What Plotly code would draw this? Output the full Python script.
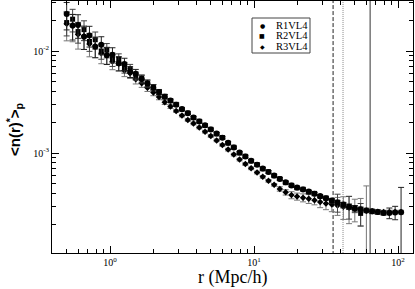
import plotly.graph_objects as go

# ---- data ----
r = [0.50, 0.55, 0.60, 0.66, 0.72, 0.79, 0.87, 0.95, 1.04, 1.15, 1.26, 1.38, 1.51, 1.66,
     1.82, 2.00, 2.19, 2.40, 2.63, 2.88, 3.16, 3.47, 3.80, 4.17, 4.57, 5.01, 5.50, 6.03,
     6.61, 7.24, 7.94, 8.71, 9.55, 10.5, 11.5, 12.6, 13.8, 15.1, 16.6, 18.2, 19.9, 21.9,
     24.0, 26.3, 28.8, 31.6, 34.7, 38.0, 41.7, 45.7, 50.1, 55.0, 60.3, 66.1, 72.4, 79.4,
     87.1, 95.5, 105.0]

r1_n = [0.0230, 0.0178, 0.0180, 0.0138, 0.0142, 0.0110, 0.0115, 0.00910, 0.00920, 0.00760,
        0.00745, 0.00625, 0.00600, 0.00531, 0.00482, 0.00437, 0.00396, 0.00357, 0.00327,
        0.00298, 0.00270, 0.00246, 0.00223, 0.00204, 0.00187, 0.00170, 0.00155, 0.00141,
        0.00126, 0.00113, 0.00101, 0.000922, 0.000840, 0.000768, 0.000705, 0.000651,
        0.000603, 0.000557, 0.000516, 0.000480, 0.000459, 0.000439, 0.000419, 0.000399,
        0.000379, 0.000360, 0.000342, 0.000327, 0.000313, 0.000298, 0.000288, 0.000281,
        0.000274, 0.000268, 0.000264, 0.000259, 0.000258, 0.000261, 0.000263]
r1_err = [0.30, 0.28, 0.26, 0.25, 0.23, 0.22, 0.20, 0.19, 0.17, 0.16, 0.14, 0.12, 0.10, 0.09,
          0.08, 0.07, 0.06, 0.05, 0.04, 0.04, 0.03, 0.03, 0.03, 0.03, 0.03, 0.03, 0.03, 0.03,
          0.03, 0.03, 0.03, 0.03, 0.03, 0.03, 0.03, 0.03, 0.03, 0.03, 0.03, 0.03, 0.03, 0.03,
          0.03, 0.03, 0.03, 0.03, 0.04, 0.05, 0.05, 0.06, 0.06, 0.05, 0.05, 0.05, 0.05, 0.05,
          0.12, 0.15, 0.75]

r2_n = [0.0190, 0.0205, 0.0155, 0.0162, 0.0124, 0.0129, 0.0100, 0.0102, 0.00830, 0.00830,
        0.00690, 0.00672, 0.00570, 0.00538, 0.00476, 0.00441, 0.00392, 0.00360, 0.00325,
        0.00300, 0.00268, 0.00247, 0.00222, 0.00205, 0.00186, 0.00171, 0.00154, 0.00142,
        0.00125, 0.00114, 0.00100, 0.000928, 0.000835, 0.000772, 0.000700, 0.000655,
        0.000598, 0.000560, 0.000512, 0.000483, 0.000455, 0.000442, 0.000415, 0.000402,
        0.000375, 0.000362, 0.000338, 0.000329, 0.000308, 0.000300, 0.000283, 0.000256]
r2_err = [0.26, 0.25, 0.23, 0.22, 0.20, 0.19, 0.17, 0.16, 0.15, 0.13, 0.12, 0.10, 0.09, 0.08,
          0.07, 0.06, 0.05, 0.04, 0.03, 0.03, 0.03, 0.03, 0.03, 0.03, 0.03, 0.03, 0.03, 0.03,
          0.03, 0.03, 0.03, 0.03, 0.03, 0.03, 0.03, 0.03, 0.03, 0.03, 0.03, 0.03, 0.03, 0.03,
          0.03, 0.03, 0.03, 0.04, 0.05, 0.20, 0.06, 0.25, 0.08, 0.25]

r3_n = [0.0185, 0.0176, 0.0145, 0.0140, 0.0117, 0.0112, 0.00950, 0.00915, 0.00790, 0.00750,
        0.00645, 0.00605, 0.00528, 0.00484, 0.00436, 0.00392, 0.00354, 0.00315, 0.00285,
        0.00258, 0.00233, 0.00211, 0.00195, 0.00178, 0.00162, 0.00147, 0.00133, 0.00120,
        0.00108, 0.000965, 0.000862, 0.000780, 0.000708, 0.000644, 0.000584, 0.000534,
        0.000488, 0.000445, 0.000412, 0.000387, 0.000375, 0.000365, 0.000356, 0.000345,
        0.000331, 0.000320, 0.000313, 0.000306, 0.000298, 0.000290, 0.000282, 0.000276,
        0.000272, 0.000269, 0.000265, 0.000264, 0.000264, 0.000264, 0.000264]
r3_err = [0.32, 0.30, 0.28, 0.26, 0.25, 0.23, 0.21, 0.19, 0.17, 0.15, 0.13, 0.11, 0.10, 0.09,
          0.08, 0.07, 0.06, 0.05, 0.04, 0.03, 0.03, 0.03, 0.03, 0.03, 0.03, 0.03, 0.03, 0.03,
          0.03, 0.03, 0.03, 0.03, 0.03, 0.03, 0.03, 0.03, 0.03, 0.05, 0.06, 0.08, 0.08, 0.09,
          0.10, 0.10, 0.12, 0.13, 0.15, 0.20, 0.25, 0.30, 0.25, 0.30, 0.75, 0.04, 0.04, 0.04,
          0.04, 0.04, 0.04]

series_names = ["R1VL4", "R2VL4", "R3VL4"]
limit_r = [35.4, 41.5, 64.0]
x_tickvals = [1, 10, 100]
x_ticktext = ["10<sup>0</sup>", "10<sup>1</sup>", "10<sup>2</sup>"]
y_tickvals = [0.001, 0.01]
y_ticktext = ["10<sup>-3</sup>", "10<sup>-2</sup>"]

# ---- figure ----
fig = go.Figure()

line_styles = [dict(color="#222", width=1, dash="4px,2px"),
               dict(color="#888", width=1, dash="1px,1px"),
               dict(color="#333", width=1)]
for lr, ls in zip(limit_r, line_styles):
    fig.add_trace(go.Scatter(x=[lr, lr], y=[1e-5, 1], mode="lines", line=ls,
                             showlegend=False, hoverinfo="skip"))

def add_series(rv, nv, ev, name, symbol, size, ecolor):
    rr = rv[:len(nv)]
    fig.add_trace(go.Scatter(
        x=rr, y=nv, mode="markers", name=name,
        marker=dict(symbol=symbol, size=size, color="black"),
        error_y=dict(type="data", array=[e * v for e, v in zip(ev, nv)],
                     color=ecolor, thickness=1, width=3),
        showlegend=False))

add_series(r, r3_n, r3_err, series_names[2], "diamond", 5, "#777")
add_series(r, r2_n, r2_err, series_names[1], "square", 5, "#444")
add_series(r, r1_n, r1_err, series_names[0], "circle", 6, "#222")

serif = "Liberation Serif, Times New Roman, serif"

minor_x = [v * m for v in (0.1, 1, 10) for m in range(2, 10)] + [200]
minor_y = [v * m for v in (0.0001, 0.001, 0.01) for m in range(2, 10)]

fig.update_xaxes(type="log", range=[-0.4028, 2.104], showline=True, linecolor="black",
                 linewidth=1, mirror="ticks", ticks="inside", ticklen=7, tickcolor="black",
                 tickvals=x_tickvals, ticktext=x_ticktext, showgrid=False, zeroline=False,
                 tickfont=dict(family=serif, size=10, color="black"),
                 minor=dict(tickvals=minor_x, ticks="inside", ticklen=4, tickcolor="black",
                            showgrid=False))
fig.update_yaxes(type="log", range=[-3.980, -1.5098], showline=True, linecolor="black",
                 linewidth=1, mirror="ticks", ticks="inside", ticklen=7, tickcolor="black",
                 tickvals=y_tickvals, ticktext=y_ticktext, showgrid=False, zeroline=False,
                 tickfont=dict(family=serif, size=10, color="black"),
                 minor=dict(tickvals=minor_y, ticks="inside", ticklen=4, tickcolor="black",
                            showgrid=False))

W, H = 361.0, 252.0
def px(x):
    return (x - 52) / W
def py(y):
    return (253 - y) / H

annotations = [
    dict(text="r (Mpc/h)", x=px(232), y=py(277), xref="paper", yref="paper",
         showarrow=False, xanchor="center", yanchor="middle",
         font=dict(family=serif, size=18, color="black")),
    dict(text="<b>&lt;n(r)<sup>*</sup>&gt;<sub>p</sub></b>", x=px(14), y=py(130),
         xref="paper", yref="paper", showarrow=False, textangle=-90,
         xanchor="center", yanchor="middle",
         font=dict(family="Liberation Sans, Arial, sans-serif", size=15, color="black")),
]
legend_rows = [25, 35.5, 46]
legend_syms = ["\u25CF", "\u25A0", "\u25C6"]
for name, sym, ry in zip(series_names, legend_syms, legend_rows):
    annotations.append(dict(text=sym, x=px(262), y=py(ry), xref="paper", yref="paper",
                            showarrow=False, xanchor="center", yanchor="middle",
                            font=dict(family="DejaVu Sans", size=6, color="black")))
    annotations.append(dict(text=name, x=px(274), y=py(ry), xref="paper", yref="paper",
                            showarrow=False, xanchor="left", yanchor="middle",
                            font=dict(family=serif, size=10.5, color="black")))

fig.update_layout(
    width=415, height=289,
    margin=dict(l=52, r=2, t=1, b=36),
    paper_bgcolor="white", plot_bgcolor="white",
    annotations=annotations,
    shapes=[dict(type="rect", xref="paper", yref="paper",
                 x0=px(252), x1=px(310), y0=py(53), y1=py(18),
                 line=dict(color="#444", width=1), fillcolor="white", layer="above")],
    showlegend=False,
)

fig.write_html("out.html", config={"displayModeBar": False},
               post_script="document.body.style.margin='0';document.body.style.padding='0';")
